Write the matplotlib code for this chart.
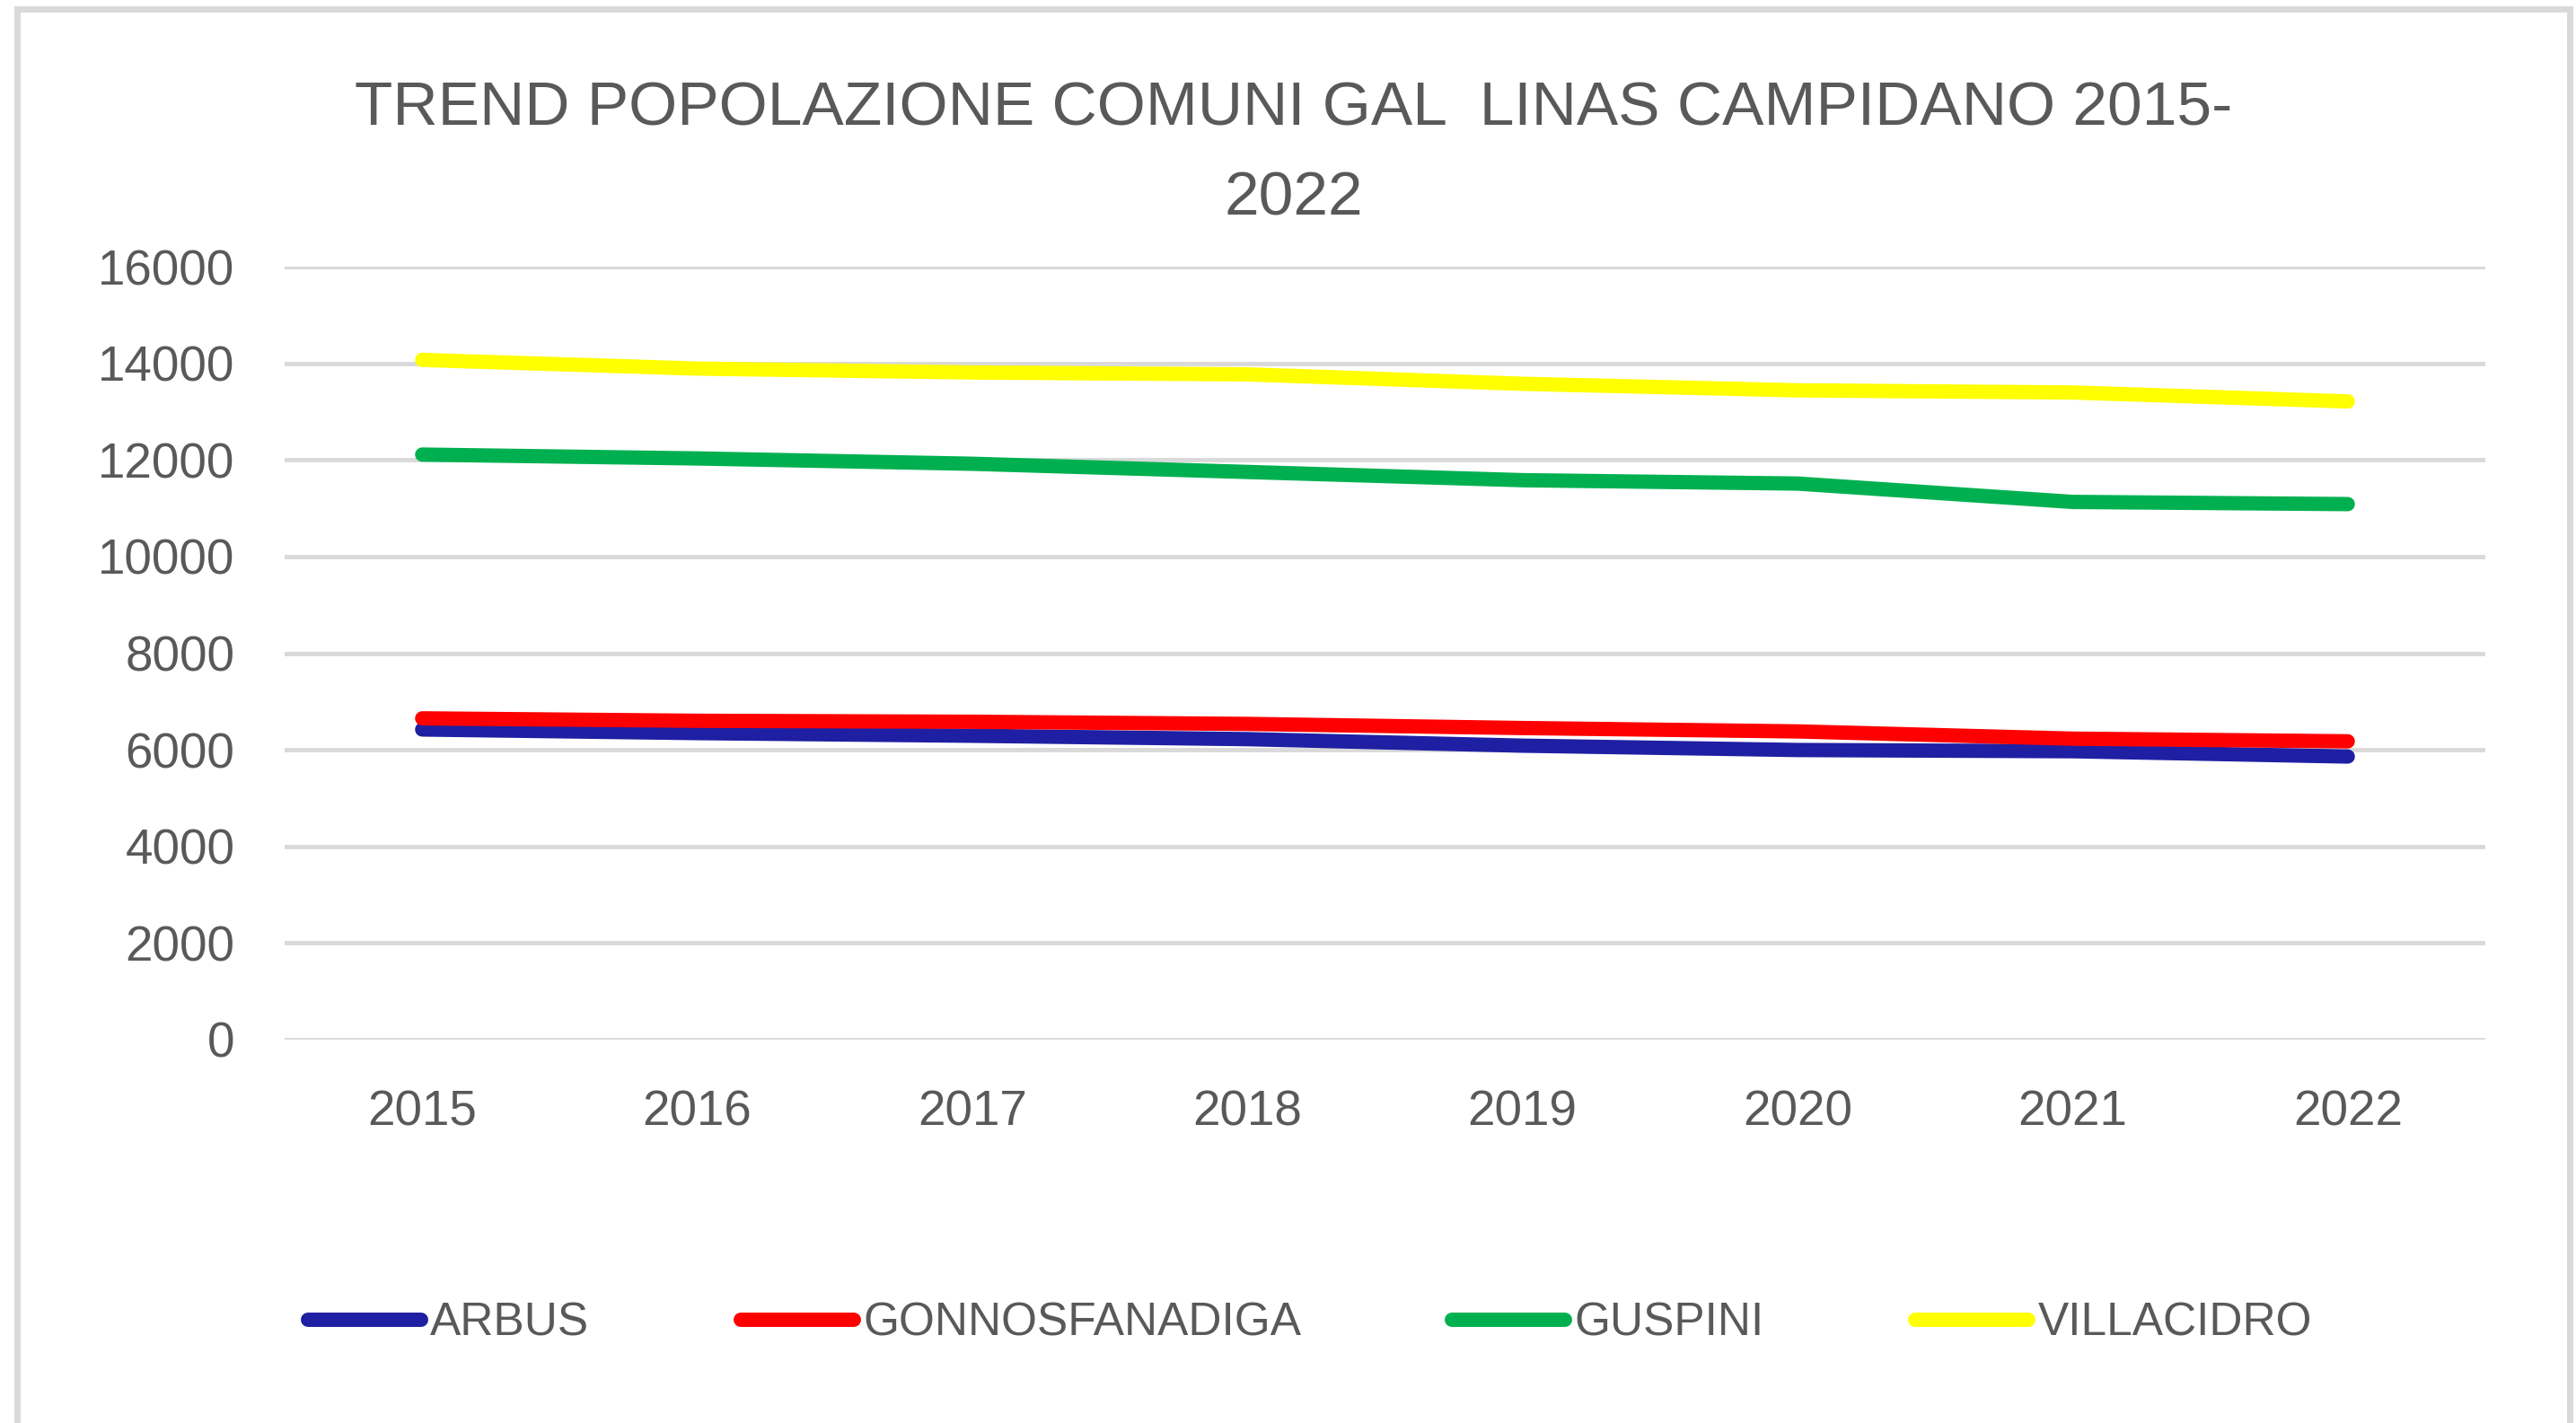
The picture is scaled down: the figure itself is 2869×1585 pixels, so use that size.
import matplotlib.pyplot as plt
from matplotlib.patches import Rectangle

anni = ["2015", "2016", "2017", "2018", "2019", "2020", "2021", "2022"]
arbus = [6420, 6345, 6290, 6220, 6085, 5995, 5970, 5860]
gonnosfanadiga = [6650, 6600, 6580, 6535, 6450, 6380, 6230, 6175]
guspini = [12110, 12030, 11920, 11750, 11580, 11510, 11130, 11085]
villacidro = [14070, 13890, 13810, 13770, 13575, 13440, 13395, 13210]

serie = [
    ("ARBUS", arbus, "#1F1FA3"),
    ("GONNOSFANADIGA", gonnosfanadiga, "#FF0000"),
    ("GUSPINI", guspini, "#00B050"),
    ("VILLACIDRO", villacidro, "#FFFF00"),
]

plt.rcParams["font.family"] = ["Liberation Sans", "DejaVu Sans"]
grigio_testo = "#595959"

fig = plt.figure(figsize=(28.69, 15.85), dpi=100)
ax = fig.add_axes([317 / 2869, 1 - 1158 / 1585, (2768 - 317) / 2869, (1158 - 297) / 1585])

# cornice esterna del grafico
fig.patches.append(Rectangle((19 / 2869, -0.05), (2862 - 19) / 2869, 1.05 - 10 / 1585,
                             transform=fig.transFigure, fill=False,
                             edgecolor="#D9D9D9", linewidth=5))

x = list(range(len(anni)))
for nome, valori, colore in serie:
    ax.plot(x, valori, color=colore, linewidth=11.5, solid_capstyle="round", label=nome)

ax.set_xlim(-0.5, len(anni) - 0.5)
ax.set_ylim(0, 16000)
ax.set_yticks(range(0, 16001, 2000))
ax.set_xticks(x)
ax.set_xticklabels(anni)
ax.grid(axis="y", color="#D9D9D9", linewidth=3.5)
ax.set_axisbelow(True)
for s in ax.spines.values():
    s.set_visible(False)
ax.tick_params(axis="both", length=0, labelsize=39.5, colors=grigio_testo)
ax.tick_params(axis="y", pad=40)
ax.tick_params(axis="x", pad=40)

fig.text(0.5023, 1 - 171 / 1585, "TREND POPOLAZIONE COMUNI GAL  LINAS CAMPIDANO 2015-\n2022",
         ha="center", va="center", fontsize=50, color=grigio_testo, linespacing=1.72)

fig.legend(loc="center", bbox_to_anchor=(1459 / 2869, 1 - 1474 / 1585), ncol=4,
           frameon=False, fontsize=37, labelcolor=grigio_testo,
           handlelength=2.45, handletextpad=0.2, columnspacing=3.28)

fig.savefig("out.png", dpi=100)
